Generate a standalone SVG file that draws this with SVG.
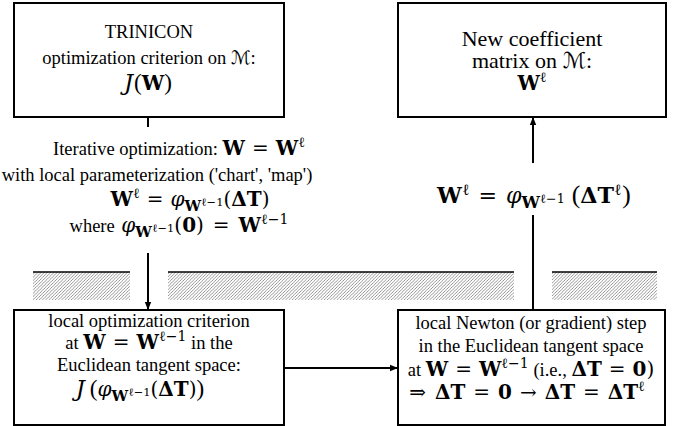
<svg xmlns="http://www.w3.org/2000/svg" width="685" height="426" viewBox="0 0 685 426">
  <defs>
    <pattern id="hatch" patternUnits="userSpaceOnUse" width="3.2" height="3.2">
      <path d="M-0.8,0.8 L0.8,-0.8 M0,3.2 L3.2,0 M2.4,4 L4,2.4" stroke="#6a6a6a" stroke-width="0.7"/>
    </pattern>
    <marker id="arrow" viewBox="0 0 10 10" refX="10" refY="5" markerWidth="8" markerHeight="8" orient="auto" markerUnits="userSpaceOnUse">
      <path d="M0,1 L10,5 L0,9 z" fill="#000"/>
    </marker>
  </defs>
  <style>
    text { font-family: "Liberation Serif", "DejaVu Serif", serif; font-size: 18.5px; fill: #000; }
    .big { font-size: 22px; }
    .m, .mb, .mi, .sup, .sub, .ss, .calj { font-family: "DejaVu Serif", serif; }
    .m { font-size: 1.08em; }
    .mb { font-size: 1.08em; font-weight: bold; }
    .mi { font-size: 1.08em; font-style: italic; }
    .lp { font-size: 1.25em; }
    .cal { font-family: "DejaVu Sans", serif; font-style: normal; }
    .calj { font-style: italic; font-size: 1.22em; }
    .sup { font-size: 0.76em; }
    .sub { font-size: 0.8em; font-weight: bold; }
    .ss { font-size: 0.62em; }
    .box { fill: #fff; stroke: #000; stroke-width: 2; }
    .wire { fill: none; stroke: #000; stroke-width: 2; }
    .rule { stroke: #000; stroke-width: 1.5; }
  </style>

  <!-- hatched boundary between the manifold and the tangent space -->
  <g id="boundary">
    <rect x="33" y="272" width="97" height="28" fill="url(#hatch)"/>
    <rect x="168" y="272" width="346" height="28" fill="url(#hatch)"/>
    <rect x="552" y="272" width="105" height="28" fill="url(#hatch)"/>
    <line class="rule" x1="33" y1="272" x2="130" y2="272"/>
    <line class="rule" x1="168" y1="272" x2="514" y2="272"/>
    <line class="rule" x1="552" y1="272" x2="657" y2="272"/>
  </g>

  <g id="connectors">
    <line class="wire" x1="148" y1="117" x2="148" y2="127"/>
    <line class="wire" x1="148" y1="253" x2="148" y2="310" marker-end="url(#arrow)"/>
    <line class="wire" x1="284" y1="368" x2="398" y2="368" marker-end="url(#arrow)"/>
    <line class="wire" x1="533" y1="310" x2="533" y2="215"/>
    <line class="wire" x1="533" y1="163" x2="533" y2="117" marker-end="url(#arrow)"/>
  </g>

  <g id="trinicon">
    <rect class="box" x="14" y="3" width="270" height="114"/>
    <text x="149" y="38" text-anchor="middle">TRINICON</text>
    <text x="149" y="64" text-anchor="middle">optimization criterion on <tspan class="cal">ℳ</tspan>:</text>
    <text x="148" y="90" text-anchor="middle"><tspan class="calj">J</tspan><tspan class="lp" dx="1">(</tspan><tspan class="mb">W</tspan><tspan class="lp">)</tspan></text>
  </g>

  <g id="new-matrix">
    <rect class="box" x="398" y="3" width="268" height="114"/>
    <text class="big" x="532" y="46" text-anchor="middle">New coefficient</text>
    <text class="big" x="532" y="68" text-anchor="middle">matrix on <tspan class="cal">ℳ</tspan>:</text>
    <text x="532" y="90" text-anchor="middle"><tspan class="mb">W</tspan><tspan class="sup" dy="-8">ℓ</tspan></text>
  </g>

  <g id="iteration-label">
    <text x="179" y="155" text-anchor="middle">Iterative optimization: <tspan class="mb">W</tspan><tspan class="m" dx="7">=</tspan><tspan class="mb" dx="7">W</tspan><tspan class="sup" dy="-8">ℓ</tspan></text>
    <text x="157" y="181" text-anchor="middle">with local parameterization ('chart', 'map')</text>
    <text x="190" y="206" text-anchor="middle"><tspan class="mb">W</tspan><tspan class="sup" dy="-8">ℓ</tspan><tspan class="m" dy="8" dx="7">=</tspan><tspan class="mi" dx="7">φ</tspan><tspan class="sub" dy="5">W</tspan><tspan class="ss" dy="-5">ℓ−1</tspan><tspan class="m">(</tspan><tspan class="mb">ΔT</tspan><tspan class="m">)</tspan></text>
    <text x="179" y="232" text-anchor="middle">where <tspan class="mi" dx="2">φ</tspan><tspan class="sub" dy="5">W</tspan><tspan class="ss" dy="-5">ℓ−1</tspan><tspan class="m">(</tspan><tspan class="mb">0</tspan><tspan class="m">)</tspan><tspan class="m" dx="9">=</tspan><tspan class="mb" dx="9">W</tspan><tspan class="sup" dy="-8">ℓ−1</tspan></text>
  </g>

  <g id="update-label">
    <text x="534" y="203" text-anchor="middle" style="font-size:20.5px"><tspan class="mb">W</tspan><tspan class="sup" dy="-8">ℓ</tspan><tspan class="m" dy="8" dx="9">=</tspan><tspan class="mi" dx="9">φ</tspan><tspan class="sub" dy="5">W</tspan><tspan class="ss" dy="-5">ℓ−1</tspan><tspan class="lp" dx="7">(</tspan><tspan class="mb">ΔT</tspan><tspan class="sup" dy="-8">ℓ</tspan><tspan class="lp" dy="8" dx="1">)</tspan></text>
  </g>

  <g id="local-criterion">
    <rect class="box" x="14" y="310" width="270" height="115"/>
    <text x="149" y="327" text-anchor="middle">local optimization criterion</text>
    <text x="149" y="349" text-anchor="middle">at <tspan class="mb">W</tspan><tspan class="m" dx="7">=</tspan><tspan class="mb" dx="7">W</tspan><tspan class="sup" dy="-8">ℓ−1</tspan><tspan dy="8"> in the</tspan></text>
    <text x="149" y="371" text-anchor="middle">Euclidean tangent space:</text>
    <text x="140" y="396" text-anchor="middle"><tspan class="calj">J</tspan><tspan class="lp" dx="5">(</tspan><tspan class="mi">φ</tspan><tspan class="sub" dy="5">W</tspan><tspan class="ss" dy="-5">ℓ−1</tspan><tspan class="m">(</tspan><tspan class="mb">ΔT</tspan><tspan class="m">)</tspan><tspan class="lp">)</tspan></text>
  </g>

  <g id="newton-step">
    <rect class="box" x="398" y="310" width="267" height="115"/>
    <text x="531" y="329" text-anchor="middle">local Newton (or gradient) step</text>
    <text x="531" y="352" text-anchor="middle">in the Euclidean tangent space</text>
    <text x="531" y="376" text-anchor="middle">at <tspan class="mb">W</tspan><tspan class="m" dx="7">=</tspan><tspan class="mb" dx="7">W</tspan><tspan class="sup" dy="-8">ℓ−1</tspan><tspan dy="8"> (i.e., </tspan><tspan class="mb">ΔT</tspan><tspan class="m" dx="7">=</tspan><tspan class="mb" dx="7">0</tspan><tspan class="m">)</tspan></text>
    <text x="527" y="399" text-anchor="middle"><tspan class="m">⇒</tspan><tspan class="mb" dx="9">ΔT</tspan><tspan class="m" dx="8">=</tspan><tspan class="mb" dx="8">0</tspan><tspan class="m" dx="8">→</tspan><tspan class="mb" dx="8">ΔT</tspan><tspan class="m" dx="8">=</tspan><tspan class="mb" dx="8">ΔT</tspan><tspan class="sup" dy="-8">ℓ</tspan></text>
  </g>
</svg>
